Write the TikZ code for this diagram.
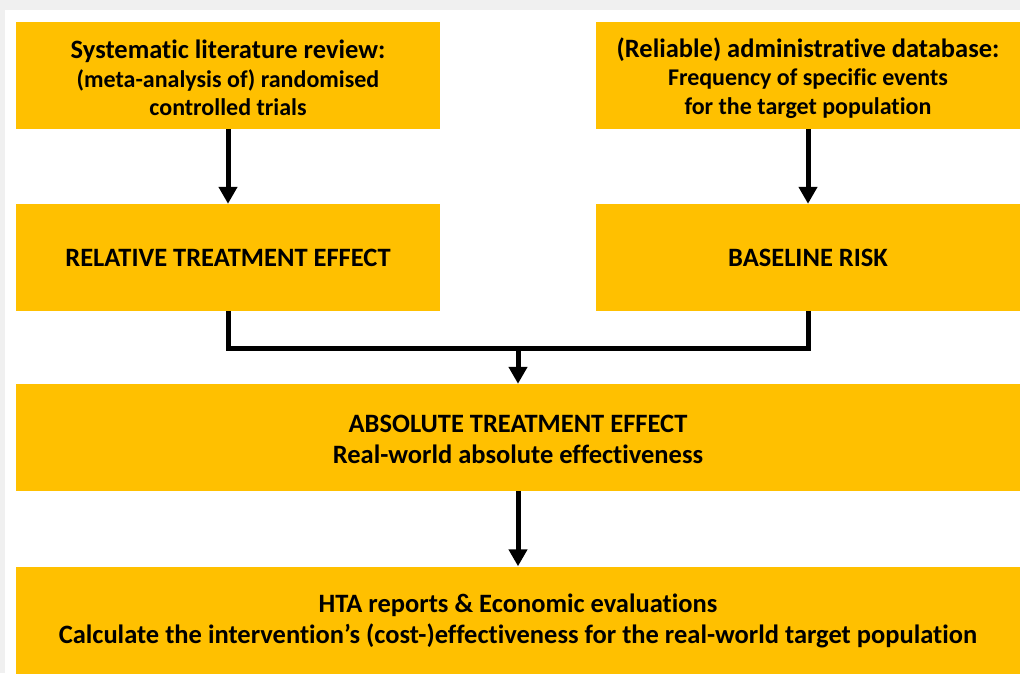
\documentclass[tikz,border=0pt]{standalone}
\usepackage{fontspec}
\setmainfont{Carlito}[RawFeature={-liga}]
\usetikzlibrary{arrows.meta}
\definecolor{boxfill}{HTML}{FFC000}
\definecolor{pagegray}{HTML}{F0F0F0}
\newcommand{\boxtitle}[1]{{\fontsize{26.5}{26.5}\selectfont #1}}
\begin{document}
\begin{tikzpicture}[x=1pt,y=-1pt,
  % yellow panels (shape only) and their centred captions
  panel/.style={fill=boxfill, draw=none, inner sep=0pt},
  halfbox/.style={panel, minimum width=424pt, minimum height=107pt},
  widebox/.style={panel, minimum width=1004pt, minimum height=107pt},
  caption/.style={inner sep=0pt, align=center, text=black,
    font=\fontsize{26.5}{30.5}\selectfont\bfseries},
  sourcecaption/.style={caption, font=\fontsize{24}{28.5}\selectfont\bfseries},
  flowline/.style={line width=5pt, draw=black},
  flowarrow/.style={flowline, -{Triangle[width=18pt,length=17pt]}}]
  % canvas
  \fill[pagegray] (0,0) rectangle (1020,673);
  \fill[white] (5,10) rectangle (1020,673);
  \useasboundingbox (0,0) rectangle (1020,673);
  \begin{scope}
  \clip (0,0) rectangle (1020,673);
  % panels
  \node[halfbox] (slr) at (228,75.5) {};
  \node[halfbox] (db) at (808,75.5) {};
  \node[halfbox] (rte) at (228,257.5) {};
  \node[halfbox] (br) at (808,257.5) {};
  \node[widebox] (ate) at (518,437.5) {};
  \node[widebox] (hta) at (518,620) {};
  % captions
  \node[sourcecaption] (slr-text) at (228,78) {\boxtitle{Systematic literature review:}\\(meta-analysis of) randomised\\controlled trials};
  \node[sourcecaption] (db-text) at (808,78) {\boxtitle{(Reliable) administrative database:}\\Frequency of specific events\\for the target population};
  \node[caption] (rte-text) at (228,257.5) {RELATIVE TREATMENT EFFECT};
  \node[caption] (br-text) at (808,257.5) {BASELINE RISK};
  \node[caption] (ate-text) at (518,439.5) {ABSOLUTE TREATMENT EFFECT\\Real-world absolute effectiveness};
  \node[caption] (hta-text) at (518,621) {HTA reports \& Economic evaluations\\Calculate the intervention’s (cost-)effectiveness for the real-world target population};
  \end{scope}
  % connectors
  \coordinate (join) at (518,348);
  \draw[flowarrow] (slr.south) -- (rte.north);
  \draw[flowarrow] (db.south) -- (br.north);
  \draw[flowline] (rte.south) |- (join) -| (br.south);
  \draw[flowarrow] (join) -- (ate.north);
  \draw[flowarrow] (ate.south) -- (hta.north);
\end{tikzpicture}
\end{document}
